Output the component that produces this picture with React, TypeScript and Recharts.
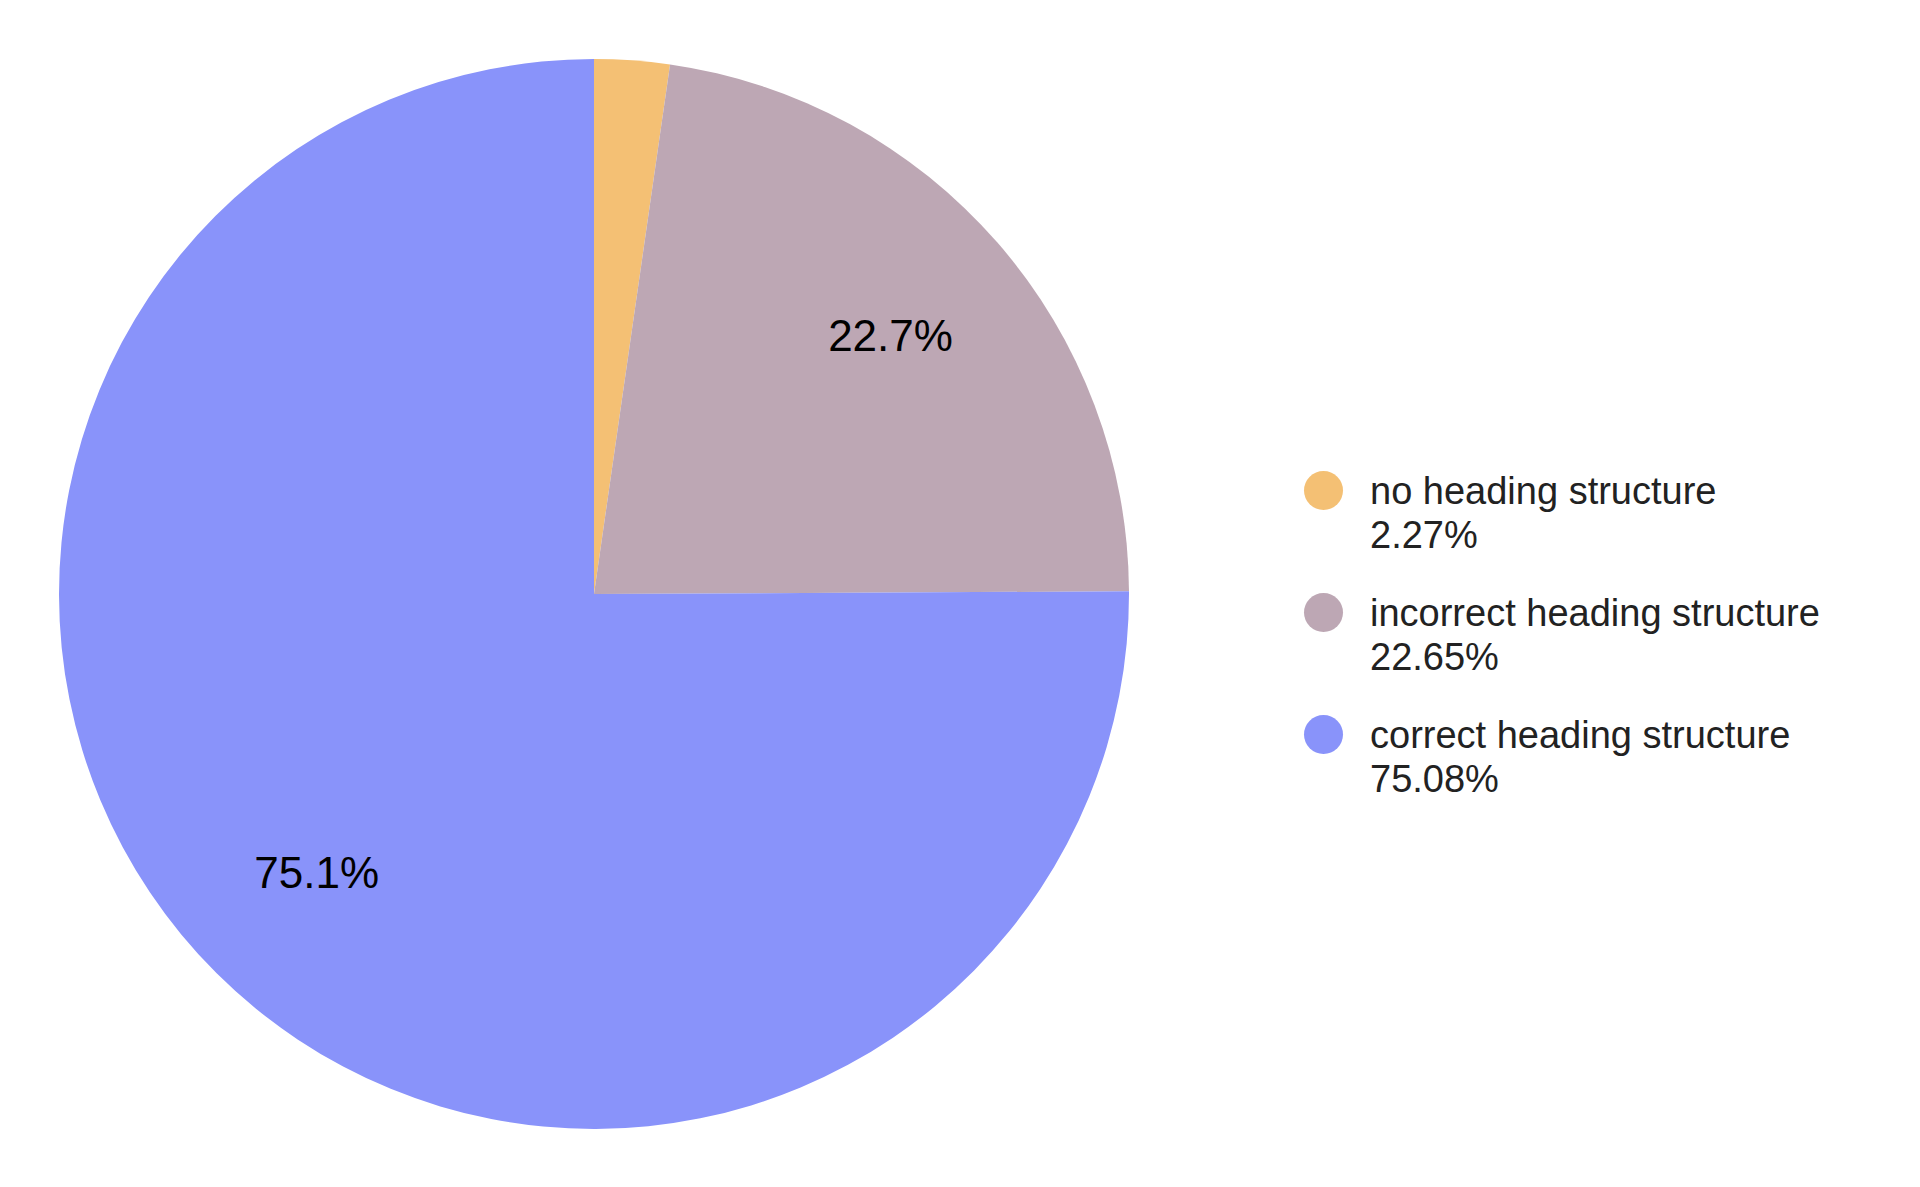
import React from "react";
import { PieChart, Pie, Cell, Legend } from "recharts";

const categories = ["no heading structure", "incorrect heading structure", "correct heading structure"];
const shares = [2.27, 22.65, 75.08];
const colors = ["#F4C074", "#BDA7B4", "#8993FA"];

const data = categories.map((name, i) => ({ name, value: shares[i] }));

const FONT = "'Liberation Sans', Arial, Helvetica, sans-serif";
const RADIAN = Math.PI / 180;

const renderLabel = (props: any) => {
  const { cx, cy, midAngle, outerRadius, percent } = props;
  // tiny slice gets no label
  if (percent < 0.05) return null;
  const r = outerRadius * 0.735;
  const x = cx + r * Math.cos(-midAngle * RADIAN);
  const y = cy + r * Math.sin(-midAngle * RADIAN);
  const pct = Math.round(percent * 1000 + 1e-6) / 10;
  return (
    <text x={x} y={y} fill="#000" fontSize={44} fontFamily={FONT} textAnchor="middle" dominantBaseline="central">
      {pct.toFixed(1)}%
    </text>
  );
};

const renderLegend = () => (
  <div style={{ fontFamily: FONT, fontSize: 38, lineHeight: "44px", color: "#222" }}>
    {data.map((d, i) => (
      <div key={d.name} style={{ display: "flex", alignItems: "flex-start", marginBottom: 34 }}>
        <div
          style={{
            width: 39,
            height: 39,
            borderRadius: "50%",
            background: colors[i],
            marginTop: 2,
            marginRight: 27,
            flexShrink: 0,
          }}
        />
        <div>
          <div>{d.name}</div>
          <div>{shares[i].toFixed(2)}%</div>
        </div>
      </div>
    ))}
  </div>
);

export default function App() {
  return (
    <div style={{ position: "absolute", left: 0, top: 0, width: 1920, height: 1187, background: "#fff" }}>
      <PieChart width={1920} height={1187} margin={{ top: 0, right: 0, bottom: 0, left: 0 }}>
        <Pie
          data={data}
          dataKey="value"
          nameKey="name"
          cx={594}
          cy={594}
          outerRadius={535}
          startAngle={90}
          endAngle={-270}
          stroke="none"
          label={renderLabel}
          labelLine={false}
          isAnimationActive={false}
        >
          {data.map((d, i) => (
            <Cell key={d.name} fill={colors[i]} />
          ))}
        </Pie>
        <Legend
          content={renderLegend}
          wrapperStyle={{ position: "absolute", left: 1304, top: 469, width: 600 }}
        />
      </PieChart>
    </div>
  );
}
